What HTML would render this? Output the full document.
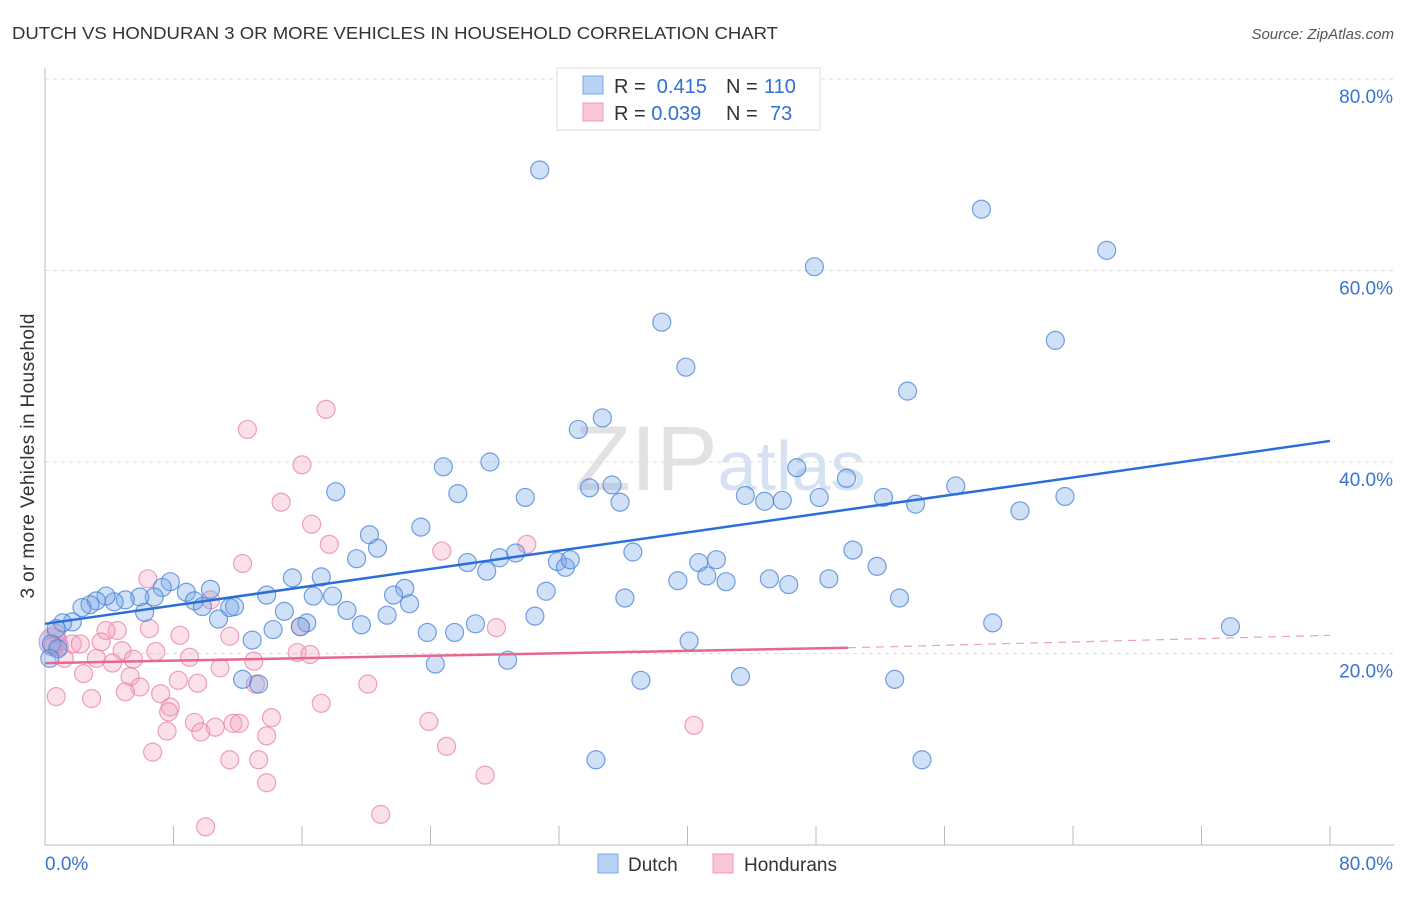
<!DOCTYPE html>
<html><head><meta charset="utf-8"><style>
body{margin:0;background:#fff;font-family:"Liberation Sans",sans-serif}
svg text{font-family:"Liberation Sans",sans-serif}
</style></head><body>
<svg id="chart" width="1406" height="892">
<text x="12" y="39" font-size="17.5" fill="#333" textLength="766" lengthAdjust="spacingAndGlyphs">DUTCH VS HONDURAN 3 OR MORE VEHICLES IN HOUSEHOLD CORRELATION CHART</text>
<text x="1394" y="39" font-size="15" fill="#555" font-style="italic" text-anchor="end">Source: ZipAtlas.com</text>
<text x="720" y="490" font-size="92" fill="#e6e6e6" text-anchor="middle" font-family="Liberation Serif"><tspan fill="#e2e2e2">ZIP</tspan><tspan fill="#d6e2f2" font-family="Liberation Sans" font-size="70">atlas</tspan></text>
<g id="grid"></g><g id="axes"></g><g id="pts"></g><g id="lines"></g>
<text transform="translate(34,456) rotate(-90)" font-size="19" fill="#333" text-anchor="middle" textLength="285">3 or more Vehicles in Household</text>
<g>
<rect x="557" y="68" width="263" height="62" fill="#fff" stroke="#ddd"/>
<rect x="583" y="76" width="20" height="18" fill="#b8d2f4" stroke="#7aa8e6"/>
<rect x="583" y="103" width="20" height="18" fill="#f9c6d6" stroke="#ee9ab6"/>
<text x="614" y="93" font-size="20" fill="#333">R = <tspan fill="#2f6fd6">&#160;0.415</tspan><tspan x="726">N = </tspan><tspan fill="#2f6fd6" x="764">110</tspan></text>
<text x="614" y="120" font-size="20" fill="#333">R = <tspan fill="#2f6fd6">0.039</tspan><tspan x="726">N = </tspan><tspan fill="#2f6fd6" x="770">73</tspan></text>
</g>
<g>
<rect x="598" y="854" width="20" height="19" fill="#b8d2f4" stroke="#7aa8e6"/>
<text x="628" y="871" font-size="19" fill="#333">Dutch</text>
<rect x="713" y="854" width="20" height="19" fill="#f9c6d6" stroke="#ee9ab6"/>
<text x="744" y="871" font-size="19" fill="#333">Hondurans</text>
</g>
</svg>
<script>
const dutchX=[30.8,58.3,66.1,47.9,38.4,62.9,39.9,53.7,34.7,33.2,24.8,27.7,46.8,49.9,18.1,25.7,29.9,33.9,35.3,35.8,43.6,44.8,45.9,48.2,52.2,54.2,56.7,63.5,60.7,23.4,20.2,20.7,19.4,26.3,27.5,28.3,29.3,31.9,32.4,32.7,36.6,50.3,40.7,41.8,41.2,42.4,39.4,45.1,46.3,48.8,51.8,15.4,17.2,22.4,21.7,22.7,31.2,36.1,53.2,13.8,16.7,17.9,10.3,8.8,7.8,7.3,9.3,9.8,11.5,11.8,18.8,21.3,19.7,10.8,14.9,16.3,15.9,14.2,12.9,23.8,25.5,26.8,30.5,40.1,59.0,73.8,24.3,28.8,12.3,13.3,37.1,43.3,52.9,34.3,54.6,6.8,5.9,5.0,4.3,3.8,3.2,2.8,2.3,6.2,1.7,1.1,0.7,0.4,0.8,0.3];
const dutchY=[70.5,66.4,62.1,60.4,54.6,52.7,49.9,47.4,44.6,43.4,39.5,40.0,39.4,38.3,36.9,36.7,36.3,37.3,37.6,35.8,36.5,35.9,36.0,36.3,36.3,35.6,37.5,36.4,34.9,33.2,32.4,31.0,29.9,29.5,28.6,30.0,30.5,29.6,29.0,29.8,30.6,30.8,29.5,29.8,28.1,27.5,27.6,27.8,27.2,27.8,29.1,27.9,28.0,26.8,26.1,25.2,26.5,25.8,25.8,26.1,26.0,26.0,26.7,26.4,27.5,26.9,25.5,24.9,24.8,24.9,24.5,24.0,23.0,23.6,24.4,23.2,22.8,22.5,21.4,22.2,22.2,23.1,23.9,21.3,23.2,22.8,18.9,19.3,17.3,16.8,17.2,17.6,17.3,8.9,8.9,25.9,25.9,25.6,25.4,26.0,25.5,25.1,24.8,24.3,23.3,23.2,22.6,21.0,20.5,19.5];
const honX=[17.5,12.6,16.0,14.7,16.6,17.7,24.7,30.0,12.3,6.4,10.3,6.5,8.4,11.5,15.9,28.1,4.5,3.8,1.7,2.2,3.5,4.8,6.9,3.2,4.2,5.5,9.0,10.9,13.0,15.7,16.5,2.4,5.3,8.3,9.5,5.9,5.0,7.2,13.1,20.1,2.9,0.7,7.8,7.7,17.2,9.3,11.7,12.1,14.1,23.9,7.6,9.7,10.6,13.8,40.4,6.7,25.0,11.5,13.3,27.4,13.8,10.0,20.9,0.9,1.2,0.7,0.5];
const honY=[45.5,43.4,39.7,35.8,33.5,31.4,30.7,31.4,29.4,27.8,25.6,22.6,21.9,21.8,22.8,22.7,22.4,22.4,21.0,21.0,21.2,20.3,20.2,19.5,19.0,19.4,19.6,18.5,19.2,20.1,19.9,17.9,17.6,17.2,16.9,16.5,16.0,15.8,16.8,16.8,15.3,15.5,14.4,13.9,14.8,12.8,12.7,12.7,13.3,12.9,11.9,11.8,12.3,11.4,12.5,9.7,10.3,8.9,8.9,7.3,6.5,1.9,3.2,20.7,19.5,22.1,20.8];
const yTicks=[20,40,60,80];
const xTicks=[0,8,16,24,32,40,48,56,64,72,80];
const dutchTrend=[23.1,42.2];
const honTrend=[19.0,20.6,21.9];
const X=v=>45+v*(1285/80), Y=v=>845-v*(766/80);
const NS="http://www.w3.org/2000/svg";
function mk(p,t,a){const e=document.createElementNS(NS,t);for(const k in a)e.setAttribute(k,a[k]);p.appendChild(e);return e;}
const grid=document.getElementById('grid'),axes=document.getElementById('axes'),pts=document.getElementById('pts'),lines=document.getElementById('lines');
yTicks.forEach(t=>{
 const l=mk(grid,'line',{x1:45,x2:1394,y1:Y(t),y2:Y(t),stroke:'#ddd','stroke-dasharray':'4,4'});
 
 
 const tx=mk(grid,'text',{x:1393,y:Y(t)+24,'font-size':19,fill:'#3b73d1','text-anchor':'end'});tx.textContent=t.toFixed(1)+'%';
 
 
});
mk(axes,'line',{x1:45,x2:45,y1:68,y2:845,stroke:'#bbb'});
mk(axes,'line',{x1:45,x2:1394,y1:845,y2:845,stroke:'#bbb'});
xTicks.forEach(t=>{const l=mk(axes,'line',{x1:X(t),x2:X(t),y1:826,y2:845,stroke:'#bbb'});
 
 });
[[0,45,'start'],[80,1393,'end']].forEach(([v,x,a])=>{const t=mk(axes,'text',{x:x,y:870,'font-size':19,fill:'#3b73d1','text-anchor':a});t.textContent=v.toFixed(1)+'%';
 
 });
mk(pts,'circle',{cx:X(0.5),cy:Y(21.2),r:14,fill:'rgba(150,120,200,0.35)',stroke:'rgba(150,120,200,0.6)'});
honX.forEach((x,i)=>{const c=mk(pts,'circle',{cx:X(x),cy:Y(honY[i]),r:9,fill:'rgba(244,160,188,0.33)',stroke:'rgba(232,130,165,0.75)','stroke-width':1.2});
 
 });
dutchX.forEach((x,i)=>{const c=mk(pts,'circle',{cx:X(x),cy:Y(dutchY[i]),r:9,fill:'rgba(120,165,230,0.35)',stroke:'rgba(70,130,215,0.75)','stroke-width':1.2});
 
 });
const dl=mk(lines,'line',{x1:X(0),y1:Y(dutchTrend[0]),x2:X(80),y2:Y(dutchTrend[1]),stroke:'#2a6fd6','stroke-width':2.5});


const hl=mk(lines,'line',{x1:X(0),y1:Y(honTrend[0]),x2:X(50),y2:Y(honTrend[1]),stroke:'#e8678f','stroke-width':2.5});


const hd=mk(lines,'line',{x1:X(50),y1:Y(honTrend[1]),x2:X(80),y2:Y(honTrend[2]),stroke:'#eea0b8','stroke-width':1.2,'stroke-dasharray':'8,6'});


</script>
</body></html>
